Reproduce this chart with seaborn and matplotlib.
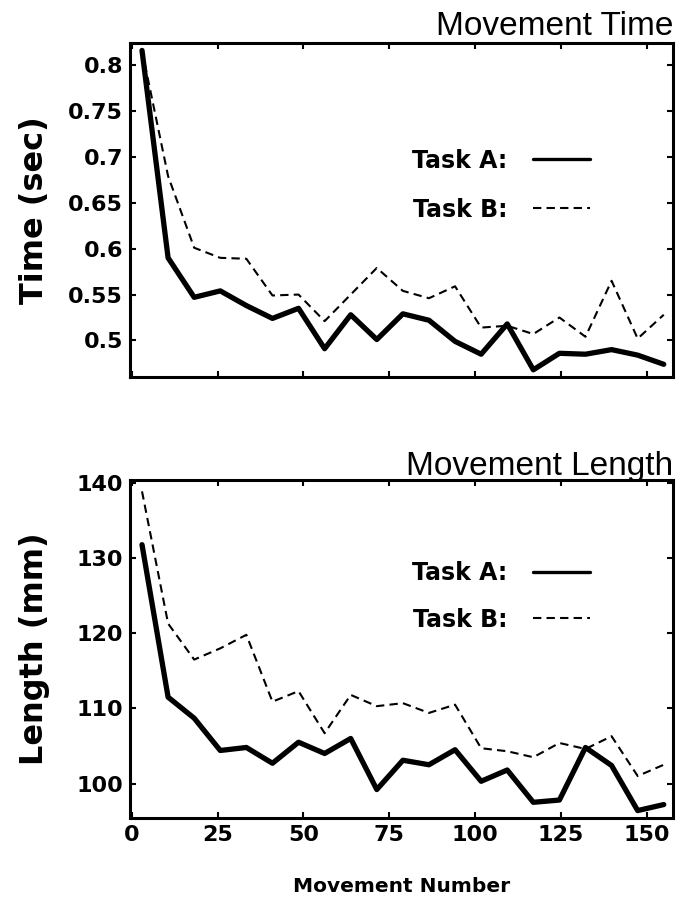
import matplotlib
matplotlib.use("Agg")
import matplotlib.pyplot as plt
from matplotlib.lines import Line2D
from matplotlib.ticker import FuncFormatter
import seaborn as sns
import pandas as pd

# Block-averaged movement numbers (centre of each block)
movement = [3.0, 10.6, 18.2, 25.8, 33.4, 41.0, 48.6, 56.2, 63.8, 71.4, 79.0,
            86.6, 94.2, 101.8, 109.4, 117.0, 124.6, 132.2, 139.8, 147.4, 155.0]

time_a = [0.816, 0.590, 0.547, 0.554, 0.538, 0.524, 0.535, 0.491, 0.528, 0.501, 0.529,
          0.522, 0.499, 0.485, 0.518, 0.468, 0.486, 0.485, 0.490, 0.484, 0.474]
time_b = [0.816, 0.679, 0.601, 0.590, 0.589, 0.549, 0.550, 0.521, 0.550, 0.579, 0.554,
          0.546, 0.559, 0.514, 0.516, 0.507, 0.525, 0.504, 0.565, 0.502, 0.528]

length_a = [131.8, 111.5, 108.7, 104.4, 104.8, 102.7, 105.5, 104.0, 106.0, 99.2, 103.1,
            102.5, 104.5, 100.3, 101.8, 97.5, 97.8, 104.8, 102.4, 96.4, 97.2]
length_b = [138.9, 121.3, 116.5, 118.0, 119.8, 110.9, 112.3, 106.7, 111.8, 110.3, 110.7,
            109.4, 110.5, 104.7, 104.3, 103.5, 105.4, 104.6, 106.3, 101.0, 102.5]

tasks = ["Task A:", "Task B:"]
x_ticks = [0, 25, 50, 75, 100, 125, 150]
time_ticks = [0.5, 0.55, 0.6, 0.65, 0.7, 0.75, 0.8]
length_ticks = [100, 110, 120, 130, 140]

sns.set_style("ticks")
plt.rcParams["font.family"] = ["DejaVu Sans"]
for key in ["text.color", "axes.labelcolor", "axes.edgecolor",
            "xtick.color", "ytick.color"]:
    plt.rcParams[key] = "black"

BOLD = {"family": "DejaVu Sans", "weight": "bold"}
DASH = (0, (4, 2.5))
LINE_W = {tasks[0]: 3.8, tasks[1]: 1.5}


def frame(values_a, values_b, name):
    n = len(movement)
    return pd.DataFrame({
        "movement": movement * 2,
        name: values_a + values_b,
        "task": [tasks[0]] * n + [tasks[1]] * n,
    })


fig = plt.figure(figsize=(6.76, 9.11), dpi=100)
ax_t = fig.add_axes([0.1923, 0.586, 0.8033, 0.3667])
ax_l = fig.add_axes([0.1923, 0.102, 0.8033, 0.371])

panels = [
    (ax_t, frame(time_a, time_b, "time"), "time", "Time (sec)", "Movement Time",
     (0.460, 0.824), time_ticks, 0.684, 1.06, 6),
    (ax_l, frame(length_a, length_b, "length"), "length", "Length (mm)", "Movement Length",
     (95.4, 140.4), length_ticks, 0.760, 0.95, 4),
]

for ax, df, col, ylabel, title, ylim, yticks, leg_y, leg_gap, title_pad in panels:
    for task in tasks:
        sub = df[df["task"] == task]
        sns.lineplot(data=sub, x="movement", y=col, ax=ax, color="black",
                     linewidth=LINE_W[task], legend=False,
                     linestyle="-" if task == tasks[0] else DASH)
    ax.set_xlim(-0.5, 157.7)
    ax.set_ylim(*ylim)
    ax.set_xticks(x_ticks)
    ax.set_yticks(yticks)
    ax.yaxis.set_major_formatter(FuncFormatter(lambda v, p: f"{v:g}"))
    ax.tick_params(direction="in", length=4, width=1.5, top=True, right=True,
                   labelsize=16, pad=5, colors="black")
    for lab in ax.get_yticklabels() + ax.get_xticklabels():
        lab.set_fontweight("bold")
    for sp in ax.spines.values():
        sp.set_linewidth(2.2)
        sp.set_color("black")
    ax.set_ylabel(ylabel, fontsize=23, **BOLD)
    ax.yaxis.set_label_coords(-0.147, 0.5)
    ax.set_xlabel("")
    ax.set_title(title, loc="right", fontsize=24, family="Liberation Sans",
                 pad=title_pad)
    handles = [Line2D([], [], color="black", linewidth=2.4),
               Line2D([], [], color="black", linewidth=1.5, linestyle=DASH)]
    ax.legend(handles, tasks, loc="upper left", bbox_to_anchor=(0.519, leg_y),
              frameon=False, markerfirst=False, handlelength=2.4,
              handletextpad=1.1, labelspacing=leg_gap, borderpad=0,
              borderaxespad=0, prop={"size": 17, "weight": "bold"})

ax_t.tick_params(labelbottom=False)
ax_l.set_xlabel("Movement Number", fontsize=14.5, labelpad=23, **BOLD)

fig.savefig("out.png", dpi=100)
